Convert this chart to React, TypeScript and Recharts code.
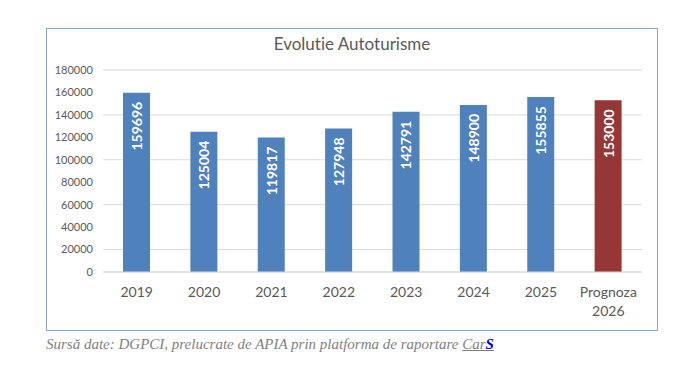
import { Bar, BarChart, CartesianGrid, Cell, LabelList, XAxis, YAxis } from "recharts";

const years = ["2019", "2020", "2021", "2022", "2023", "2024", "2025", "Prognoza\n2026"];
const registrations = [159696, 125004, 119817, 127948, 142791, 148900, 155855, 153000];
const yTicks = [0, 20000, 40000, 60000, 80000, 100000, 120000, 140000, 160000, 180000];

const BLUE = "#4f81bd";
const RED = "#953735";
const TEXT = "#595959";
const FONT = "Lato, 'Open Sans', sans-serif";

const data = years.map((year, i) => ({ year, value: registrations[i] }));

function YearTick({ x, y, payload }: { x?: number; y?: number; payload?: { value: string } }) {
  const lines = String(payload?.value ?? "").split("\n");
  return (
    <text x={x} y={y} textAnchor="middle" fill={TEXT} fontSize={14} fontFamily={FONT}>
      {lines.map((line, i) => (
        <tspan key={i} x={x} dy={i === 0 ? 17 : 19}>
          {line}
        </tspan>
      ))}
    </text>
  );
}

function ValueLabel(props: any) {
  const { x, y, width, value } = props;
  const cx = x + width / 2;
  const top = y + 9;
  return (
    <text
      x={cx}
      y={top}
      transform={`rotate(-90 ${cx} ${top})`}
      textAnchor="end"
      dominantBaseline="central"
      fill="#fff"
      fontSize={14}
      fontWeight="bold"
      fontFamily={FONT}
    >
      {value}
    </text>
  );
}

export default function App() {
  return (
    <div style={{ position: "absolute", left: 0, top: 0, width: 700, height: 372, background: "#fff" }}>
      <div
        style={{
          position: "absolute",
          left: 46,
          top: 28,
          width: 610,
          height: 301,
          border: "1px solid #8aa5d0",
        }}
      >
        <div
          style={{
            position: "absolute",
            top: 4,
            width: "100%",
            textAlign: "center",
            fontFamily: FONT,
            fontSize: 17,
            color: TEXT,
            fontVariantLigatures: "none",
          }}
        >
          Evolutie Autoturisme
        </div>
        <BarChart
          width={610}
          height={301}
          data={data}
          barCategoryGap="30%"
          margin={{ top: 41, right: 15, left: 0, bottom: 0 }}
        >
          <CartesianGrid vertical={false} stroke="#d9d9d9" />
          <XAxis
            dataKey="year"
            interval={0}
            tickLine={false}
            axisLine={{ stroke: "#d9d9d9" }}
            height={58}
            tick={<YearTick />}
          />
          <YAxis
            domain={[0, 180000]}
            ticks={yTicks}
            width={56}
            tickLine={false}
            axisLine={false}
            tickMargin={4}
            tick={{ fontSize: 11, fill: TEXT, fontFamily: FONT }}
          />
          <Bar dataKey="value" isAnimationActive={false} barSize={27}>
            {data.map((d, i) => (
              <Cell key={d.year} fill={i === data.length - 1 ? RED : BLUE} />
            ))}
            <LabelList dataKey="value" content={<ValueLabel />} />
          </Bar>
        </BarChart>
      </div>
      <div
        style={{
          position: "absolute",
          left: 46,
          top: 336,
          fontFamily: "'Liberation Serif', serif",
          fontStyle: "italic",
          fontSize: 15,
          color: "#7f7f7f",
          whiteSpace: "nowrap",
        }}
      >
        Sursă date: DGPCI, prelucrate de APIA prin platforma de raportare{" "}
        <span style={{ textDecoration: "underline" }}>
          Car<b style={{ color: "#0000ee" }}>S</b>
        </span>
      </div>
    </div>
  );
}
